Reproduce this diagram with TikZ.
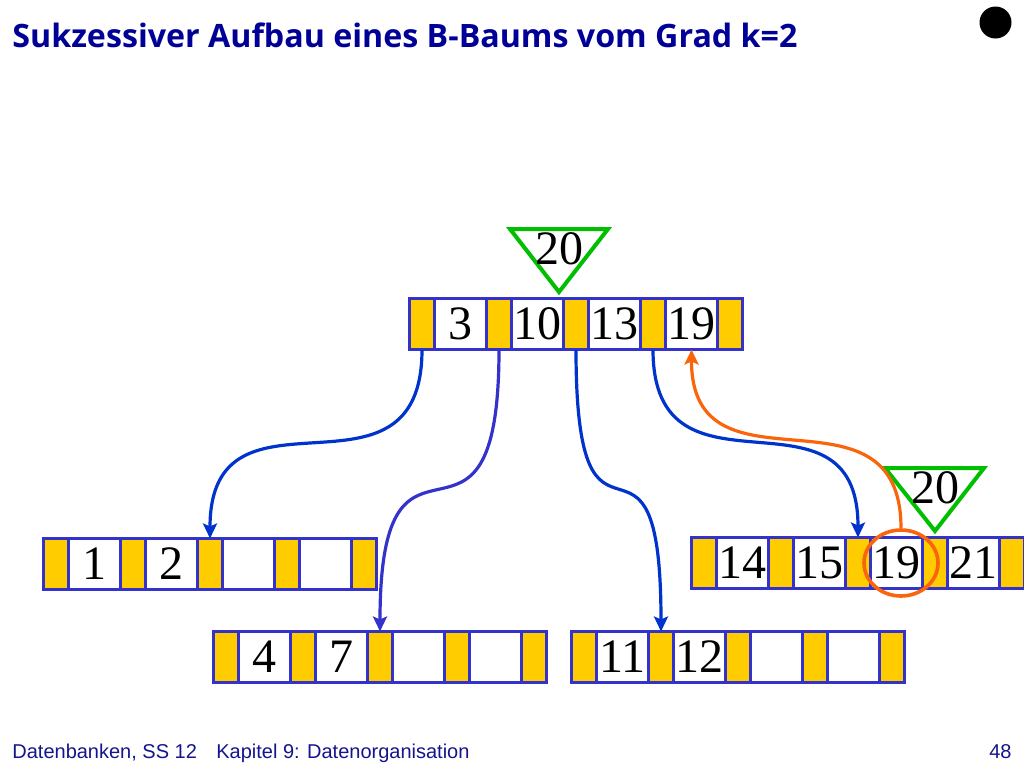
\documentclass[tikz,border=0pt]{standalone}
\usepackage{fontspec}
\setmainfont{Liberation Serif}
\newfontfamily\titelschrift{Open Sans}
\newfontfamily\fussschrift{Liberation Sans}
\usepackage{tikz}
\usetikzlibrary{arrows.meta}
\usetikzlibrary{positioning}
\usetikzlibrary{shapes.geometric}

\definecolor{rahmen}{RGB}{51,51,204}
\definecolor{gelb}{RGB}{255,204,0}
\definecolor{pfeilblau}{RGB}{0,51,204}
\definecolor{orangerot}{RGB}{250,100,10}
\definecolor{gruen}{RGB}{0,190,0}
\definecolor{titelblau}{RGB}{0,0,150}
\definecolor{fussblau}{RGB}{20,20,140}

% B-Baum-Knoten: Name, Ecke oben links, Schluessel
\newcommand{\bknoten}[4]{%
  \node[zeiger, anchor=north west] (#1-p0) at (#2,#3) {};
  \foreach \k [count=\i, remember=\i as \j (initially 0)] in {#4} {
    \node[schluessel, right=0pt of #1-p\j] (#1-k\i) {\k};
    \node[zeiger, right=0pt of #1-k\i] (#1-p\i) {};
  }%
}

\begin{document}
\begin{tikzpicture}[x=0.5pt,y=-0.5pt,
    zeiger/.style={rectangle,draw=rahmen,fill=gelb,line width=1.5pt,
      minimum width=12.5pt,minimum height=25.5pt,inner sep=0pt,outer sep=0pt},
    schluessel/.style={zeiger,fill=white,minimum width=26pt,
      font=\fontsize{24}{24}\selectfont},
    pfeil/.style={-{Stealth[length=7.5pt,width=7pt,inset=1.5pt]},line width=1.6pt,color=pfeilblau},
    dreieck/.style={draw=gruen,line width=2pt,line join=miter},
    einfueg/.style={font=\fontsize{24}{24}\selectfont,inner sep=0pt},
    kreis/.style={ellipse,draw=orangerot,line width=1.8pt,
      minimum width=37pt,minimum height=33pt,inner sep=0pt}]
  \useasboundingbox (0,0) rectangle (1024,768);

  \node[anchor=base west,inner sep=0pt,text=titelblau,
        font=\titelschrift\bfseries\fontsize{16.1}{16}\selectfont]
    (titel) at (12,47) {Sukzessiver Aufbau eines B-Baums vom Grad k=2};
  \node[circle,fill=black,minimum size=16pt,inner sep=0pt] (punkt) at (995.5,22.5) {};

  % Knoten
  \bknoten{r}{409.5}{298.5}{3,10,13,19}
  \bknoten{l1}{43.5}{538.5}{1,2,{},{}}
  \bknoten{l2}{213.5}{631.5}{4,7,{},{}}
  \bknoten{m}{571.5}{631.5}{11,12,{},{}}
  \bknoten{re}{691.5}{537.5}{14,15,19,21}

  % einzufuegender Schluessel
  \draw[dreieck] (510,229) -- (608,229) -- (559,292) -- cycle;
  \node[einfueg] (neu1) at (559,249) {20};
  \draw[dreieck] (885,468) -- (984,468) -- (935,531) -- cycle;
  \node[einfueg] (neu2) at (935,488) {20};
  \node[kreis] (markiert) at (901,563) {};

  % Zeiger
  \draw[pfeil] (r-p0.south) .. controls +(0,170) and +(0,-170) .. (l1-p2.north);
  \draw[pfeil,color=rahmen] (r-p1.south) .. controls +(0,250) and +(0,-250) .. (l2-p2.north);
  \draw[pfeil] (r-p2.south) .. controls +(0,250) and +(0,-250) .. (m-p1.north);
  \draw[pfeil] (r-p3.south) .. controls +(0,165) and +(0,-165) .. (re-p2.north);
  \draw[pfeil,color=orangerot] (markiert.north) .. controls +(0,-155) and +(0,155) .. (r-k4.south);

  % Fusszeile
  \node[anchor=base west,inner sep=0pt,text=fussblau,
        font=\fussschrift\fontsize{10}{12}\selectfont] (fuss1) at (12,758) {Datenbanken, SS 12};
  \node[anchor=base west,inner sep=0pt,text=fussblau,
        font=\fussschrift\fontsize{10}{12}\selectfont] (fuss2) at (216,758) {Kapitel 9: Datenorganisation};
  \node[anchor=base east,inner sep=0pt,text=fussblau,
        font=\fussschrift\fontsize{10}{12}\selectfont] (seite) at (1012,758) {48};
\end{tikzpicture}
\end{document}
